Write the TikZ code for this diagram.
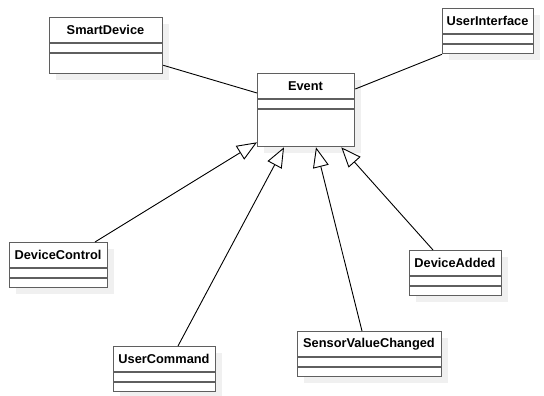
\documentclass[tikz,border=0pt]{standalone}
\usepackage{fontspec}
\setmainfont{Liberation Sans}
\usetikzlibrary{arrows.meta,calc,shadows}

\definecolor{boxline}{RGB}{95,95,95}
\definecolor{shadowgray}{RGB}{240,240,240}

\tikzset{
  classbox/.style={draw=boxline, line width=1.3pt, fill=white, inner sep=0pt,
    drop shadow={shadow xshift=6pt, shadow yshift=-6pt, fill=shadowgray, opacity=1}},
  classline/.style={draw=boxline, line width=1.3pt},
  classname/.style={font=\fontsize{12.8}{15}\selectfont\bfseries, inner sep=0pt},
  assoc/.style={draw=black, line width=0.9pt},
  inherit/.style={draw=black, line width=0.9pt,
    -{Triangle[length=20pt, width=16pt, fill=white]}},
}

% class box: name, left, top, right, bottom, first divider, second divider, label
\newcommand\umlclass[8]{%
  \node[classbox, minimum width={#4-#2}, minimum height={#5-#3}, anchor=north west] (#1) at (#2,#3) {};
  \node[classname] (#1-name) at ({(#2+#4)/2},{(#3+#6)/2}) {#8};
  \draw[classline] (#2,#6) -- (#4,#6);
  \draw[classline] (#2,#7) -- (#4,#7);
}

\begin{document}
\begin{tikzpicture}[x=1pt, y=-1pt]
  \useasboundingbox (0,0) rectangle (544,396);

  \umlclass{sd}{49}{17}{162}{73}{43}{53}{SmartDevice}
  \umlclass{ui}{442}{8}{533}{53}{34}{44}{UserInterface}
  \umlclass{ev}{257}{73}{354}{146}{99}{109}{Event}
  \umlclass{dc}{9}{242}{107}{287}{268}{278}{DeviceControl}
  \umlclass{da}{409}{250}{501}{295}{276}{286}{DeviceAdded}
  \umlclass{uc}{113}{346}{215}{391}{372}{382}{UserCommand}
  \umlclass{sv}{297}{331}{441}{376}{357}{367}{SensorValueChanged}

  % associations
  \draw[assoc] ($(sd.south east)+(0,-9)$) -- ($(ev.north west)+(0,20)$);
  \draw[assoc] ($(ev.north east)+(0,16)$) -- (ui.south west);

  % generalizations
  \draw[inherit] ($(dc.north west)+(86,0)$) -- ($(ev.south west)+(0,-5)$);
  \draw[inherit] ($(uc.north west)+(65,0)$) -- ($(ev.south west)+(27,0)$);
  \draw[inherit] ($(sv.north west)+(65,0)$) -- ($(ev.south west)+(59,0)$);
  \draw[inherit] ($(da.north west)+(24,0)$) -- ($(ev.south east)+(-14,0)$);
\end{tikzpicture}
\end{document}
